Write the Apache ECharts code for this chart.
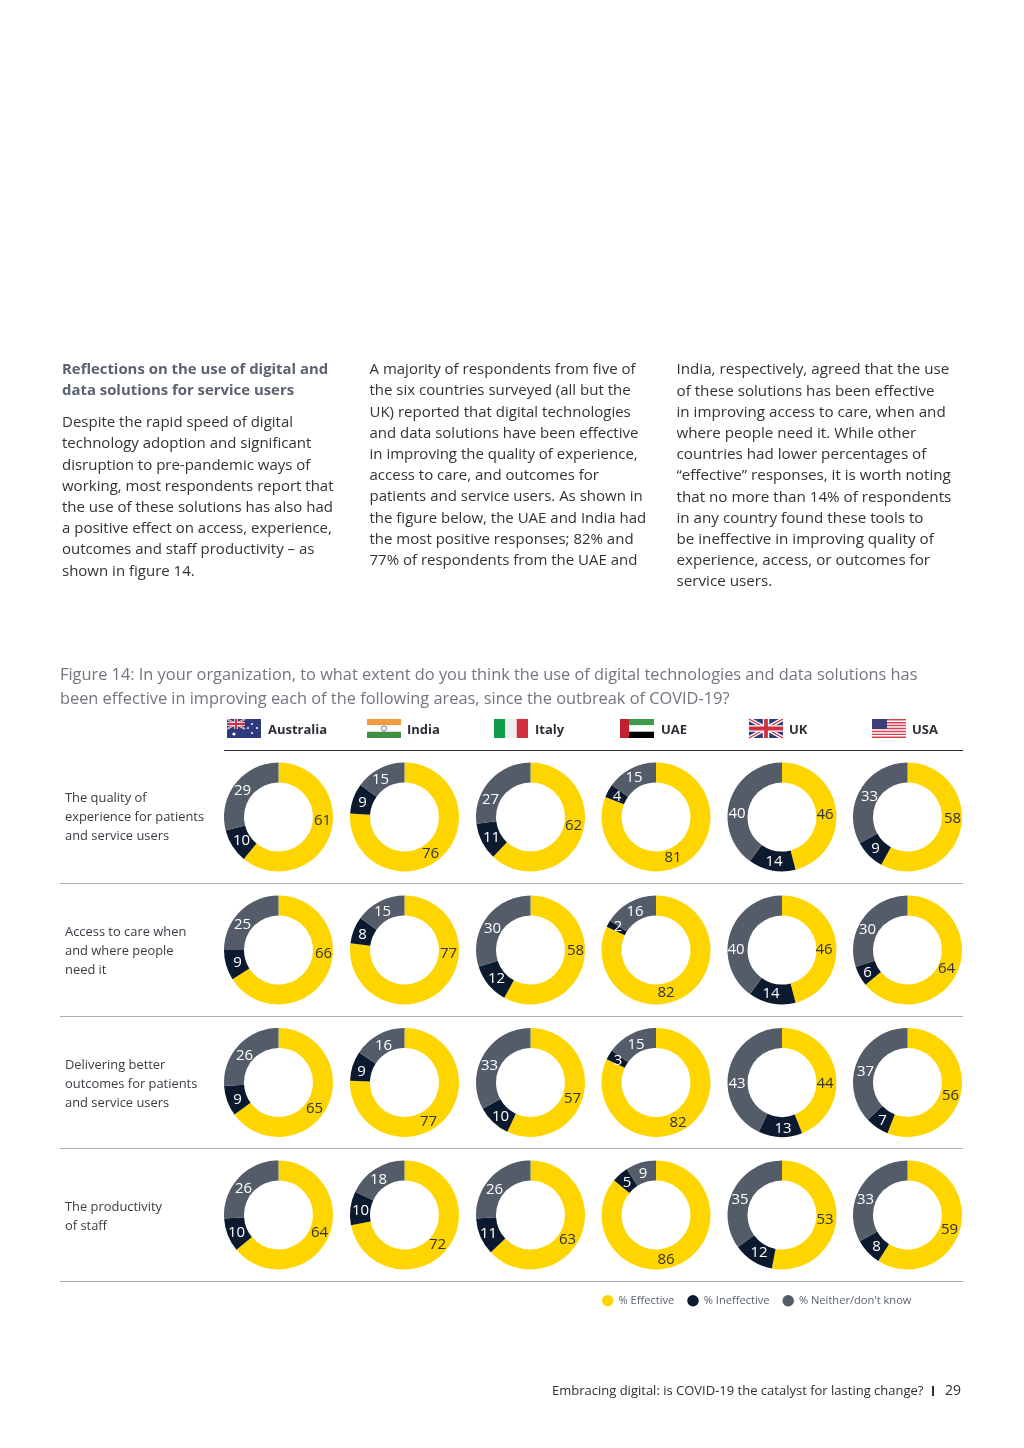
<!DOCTYPE html>
<html><head><meta charset="utf-8">
<script src="https://cdn.jsdelivr.net/npm/echarts@6/dist/echarts.min.js"></script>
<style>html,body{margin:0;padding:0;background:#fff}#c{width:1024px;height:1448px}</style>
</head><body><div id="c"></div>
<script>
const countries = ['Australia','India','Italy','UAE','UK','USA'];
const areas = [
  ['The quality of','experience for patients','and service users'],
  ['Access to care when','and where people','need it'],
  ['Delivering better','outcomes for patients','and service users'],
  ['The productivity','of staff']
];
const seriesNames = ['% Effective','% Ineffective',"% Neither/don't know"];
const effective = [
  [61,76,62,81,46,58],
  [66,77,58,82,46,64],
  [65,77,57,82,44,56],
  [64,72,63,86,53,59]
];
const ineffective = [
  [10,9,11,4,14,9],
  [9,8,12,2,14,6],
  [9,9,10,3,13,7],
  [10,10,11,5,12,8]
];
const neither = [
  [29,15,27,15,40,33],
  [25,15,30,16,40,30],
  [26,16,33,15,43,37],
  [26,18,26,9,35,33]
];
// label nudges from each donut's centre, [effective, ineffective, neither]
const labelNudges = [
 [[[44,3],[-37,23],[-36,-27]],[[26,36],[-42,-15],[-24,-38]],[[43,8],[-39,20],[-40,-18]],[[17,40],[-39,-21],[-22,-40]],[[43,-3],[-8,44],[-45,-4]],[[45,1],[-32,31],[-38,-21]]],
 [[[45,3],[-41,12],[-36,-26]],[[44,3],[-42,-16],[-22,-39]],[[45,0],[-34,28],[-38,-22]],[[10,42],[-38,-24],[-21,-39]],[[42,-1],[-11,43],[-46,-1]],[[39,18],[-40,22],[-40,-21]]],
 [[[36,25],[-41,16],[-34,-28]],[[24,38],[-43,-12],[-21,-38]],[[42,15],[-30,33],[-41,-18]],[[22,39],[-38,-23],[-20,-39]],[[43,0],[1,45],[-45,0]],[[43,12],[-25,37],[-42,-12]]],
 [[[41,17],[-42,17],[-35,-27]],[[33,29],[-44,-5],[-26,-36]],[[37,24],[-42,18],[-36,-26]],[[10,44],[-29,-33],[-13,-42]],[[43,4],[-23,37],[-42,-16]],[[42,14],[-31,31],[-42,-16]]]
];
const colX = [278.5,404.5,530.5,656,782,907.5];
const rowY = [817,950,1082.5,1215];
const colors = ['#FFD500','#0B1A2E','#535C68'];
const labelColors = ['#333333','#ffffff','#ffffff'];
const FONT = '"Open Sans", sans-serif';

const col1Head = ['Reflections on the use of digital and','data solutions for service users'];
const col1 = ['Despite the rapid speed of digital','technology adoption and significant','disruption to pre-pandemic ways of','working, most respondents report that','the use of these solutions has also had','a positive effect on access, experience,','outcomes and staff productivity – as','shown in figure 14.'];
const col2 = ['A majority of respondents from five of','the six countries surveyed (all but the','UK) reported that digital technologies','and data solutions have been effective','in improving the quality of experience,','access to care, and outcomes for','patients and service users. As shown in','the figure below, the UAE and India had','the most positive responses; 82% and','77% of respondents from the UAE and'];
const col3 = ['India, respectively, agreed that the use','of these solutions has been effective','in improving access to care, when and','where people need it. While other','countries had lower percentages of','“effective” responses, it is worth noting','that no more than 14% of respondents','in any country found these tools to','be ineffective in improving quality of','experience, access, or outcomes for','service users.'];
const figTitle = ['Figure 14: In your organization, to what extent do you think the use of digital technologies and data solutions has','been effective in improving each of the following areas, since the outbreak of COVID-19?'];

const g = [];
function txt(x,y,s,size,color,weight,align){
  g.push({type:'text',x,y,silent:true,style:{text:s,fill:color,font:(weight||'normal')+' '+size+'px '+FONT,textAlign:align||'left',textVerticalAlign:'middle'}});
}
function rect(x,y,w,h,c){g.push({type:'rect',silent:true,shape:{x,y,width:w,height:h},style:{fill:c}});}
function seg(x1,y1,x2,y2,c,w){g.push({type:'line',silent:true,shape:{x1,y1,x2,y2},style:{stroke:c,lineWidth:w}});}
function dot(x,y,r,c){g.push({type:'circle',silent:true,shape:{cx:x,cy:y,r},style:{fill:c}});}

col1Head.forEach((s,i)=>txt(62,370+i*21.2,s,14.9,'#5A6270','bold'));
col1.forEach((s,i)=>txt(62,423+i*21.2,s,15,'#333333'));
col2.forEach((s,i)=>txt(369.5,370+i*21.2,s,15,'#333333'));
col3.forEach((s,i)=>txt(676.5,370+i*21.2,s,15.2,'#333333'));
figTitle.forEach((s,i)=>txt(60,675+i*24,s,16.35,'#747480'));

// flags
function union(x,y,w,h){
  rect(x,y,w,h,'#2E3A7C');
  seg(x,y,x+w,y+h,'#fff',h*0.2);seg(x+w,y,x,y+h,'#fff',h*0.2);
  seg(x,y,x+w,y+h,'#D22F3F',h*0.07);seg(x+w,y,x,y+h,'#D22F3F',h*0.07);
  rect(x+w/2-h*0.17,y,h*0.34,h,'#fff');rect(x,y+h*0.33,w,h*0.34,'#fff');
  rect(x+w/2-h*0.1,y,h*0.2,h,'#D22F3F');rect(x,y+h*0.4,w,h*0.2,'#D22F3F');
}
const fy=719, fh=19, fw=34;
const flagX=[227,367,494,620,749,872];
// Australia
rect(flagX[0],fy,fw,fh,'#2E3A7C');union(flagX[0],fy,18,10);
[[7,15,1.6],[25,5,1],[30,9,1],[25,14,1],[21,9,1]].forEach(p=>dot(flagX[0]+p[0],fy+p[1],p[2],'#fff'));
// India
rect(flagX[1],fy,fw,6.3,'#F39A3C');rect(flagX[1],fy+6.3,fw,6.4,'#fff');rect(flagX[1],fy+12.7,fw,6.3,'#3F8F45');
g.push({type:'circle',silent:true,shape:{cx:flagX[1]+17,cy:fy+9.5,r:2.6},style:{fill:'none',stroke:'#6A6FA8',lineWidth:1}});
// Italy
rect(flagX[2],fy,11.3,fh,'#0F9A4C');rect(flagX[2]+11.3,fy,11.4,fh,'#EFEFEF');rect(flagX[2]+22.7,fy,11.3,fh,'#D22F3F');
// UAE
rect(flagX[3],fy,9,fh,'#C4202F');rect(flagX[3]+9,fy,25,6.3,'#3F9A4A');rect(flagX[3]+9,fy+6.3,25,6.4,'#fff');rect(flagX[3]+9,fy+12.7,25,6.3,'#000');
// UK
union(flagX[4],fy,fw,fh);
// USA
for(let i=0;i<7;i++){rect(flagX[5],fy+i*2.93,fw,1.46,'#D8414F');}
rect(flagX[5],fy,15,10,'#3A3F78');
countries.forEach((c,i)=>txt([268,407,535,661,789,912][i],730.5,c,13,'#2E2E38','bold'));

seg(224,750.5,963,750.5,'#2E2E38',1.2);
[883.5,1016.5,1148.5,1281.5].forEach(y=>seg(60,y,963,y,'#ABABAB',1));
areas.forEach((lines,r)=>{
  const top=[798,932,1065,1207][r];
  lines.forEach((s,i)=>txt(65,top+i*19,s,12.9,'#3A3A44'));
});
txt(552,1391,'Embracing digital: is COVID-19 the catalyst for lasting change?',13,'#2E2E38');
rect(932,1386,2,10,'#2E2E38');
txt(945,1391,'29',14,'#2E2E38');

const series=[];
rowY.forEach((cy,r)=>colX.forEach((cx,c)=>{
  const vals=[effective[r][c],ineffective[r][c],neither[r][c]];
  series.push({
    type:'pie',name:areas[r].join(' ')+' – '+countries[c],
    center:[cx,cy],radius:[34.5,54.5],startAngle:90,clockwise:true,
    silent:true,animation:false,avoidLabelOverlap:false,minShowLabelAngle:0,
    emphasis:{disabled:true},
    itemStyle:{borderWidth:0},
    labelLine:{show:false},
    label:{show:true,position:'inside',formatter:'{c}',fontFamily:FONT,fontSize:15},
    labelLayout:(p)=>{
      const n=labelNudges[r][c][p.dataIndex];
      return {x:cx+n[0],y:cy+n[1]+1,align:'center',verticalAlign:'middle'};
    },
    data:vals.map((v,i)=>({name:seriesNames[i],value:v,itemStyle:{color:colors[i]},label:{color:labelColors[i]}}))
  });
}));

const chart=echarts.init(document.getElementById('c'),null,{renderer:'canvas',width:1024,height:1448});
chart.setOption({
  animation:false,
  backgroundColor:'#fff',
  color:colors,
  legend:{
    data:seriesNames,
    left:597,top:1290,
    icon:'circle',itemWidth:11.5,itemHeight:11.5,itemGap:13,
    textStyle:{fontFamily:FONT,fontSize:11.1,color:'#5A6270'},
    selectedMode:false
  },
  series,
  graphic:g
});
</script></body></html>
